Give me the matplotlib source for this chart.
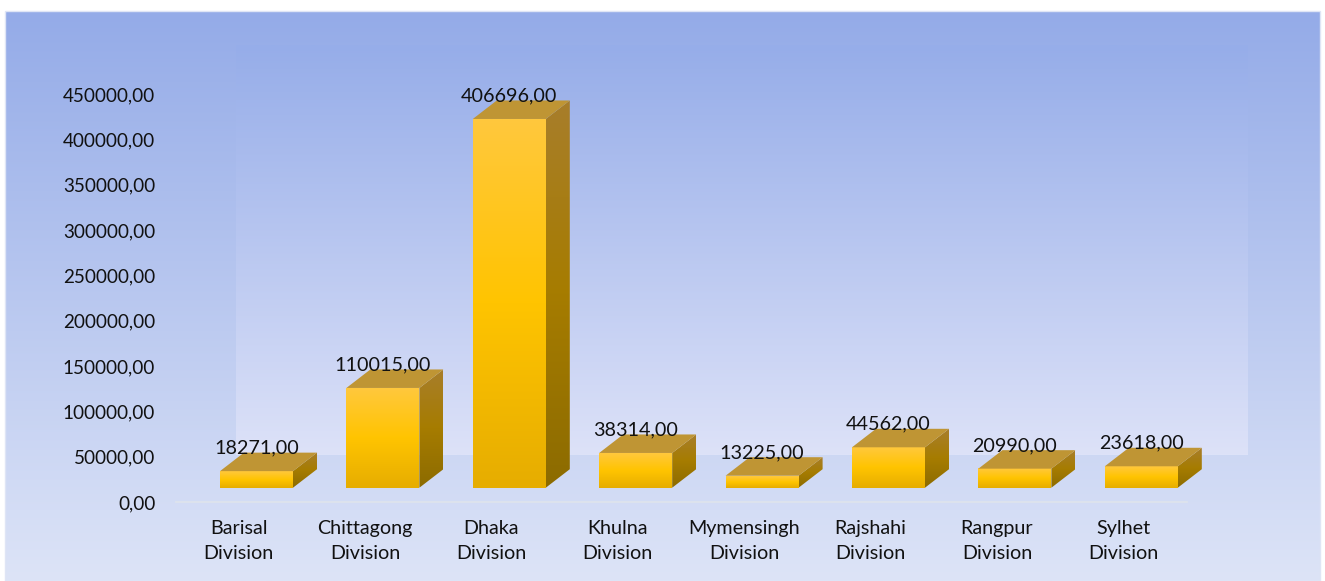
import numpy as np
import matplotlib
matplotlib.use("Agg")
import matplotlib.pyplot as plt
from matplotlib.colors import LinearSegmentedColormap
from matplotlib.patches import Polygon, Rectangle

plt.rcParams["font.family"] = ["Lato", "DejaVu Sans"]

categories = ["Barisal\nDivision", "Chittagong\nDivision", "Dhaka\nDivision", "Khulna\nDivision",
              "Mymensingh\nDivision", "Rajshahi\nDivision", "Rangpur\nDivision", "Sylhet\nDivision"]
values = [18271, 110015, 406696, 38314, 13225, 44562, 20990, 23618]
y_ticks = [0, 50000, 100000, 150000, 200000, 250000, 300000, 350000, 400000, 450000]

W, H = 1325, 581
fig = plt.figure(figsize=(W / 100, H / 100), dpi=100, facecolor="white")


def px_axes(x0, y0, x1, y1, **kw):
    # pixel box, y measured from the top
    return fig.add_axes([x0 / W, 1 - y1 / H, (x1 - x0) / W, (y1 - y0) / H], **kw)


def gradient(ax, cmap, extent, **kw):
    grad = np.linspace(0, 1, 256).reshape(-1, 1)
    return ax.imshow(grad, cmap=cmap, extent=extent, aspect="auto", origin="upper", **kw)


# chart area and back wall
bg = px_axes(0, 0, W, H)
bg_cmap = LinearSegmentedColormap.from_list("bg", ["#94abe8", "#dde4f7"])
wall_cmap = LinearSegmentedColormap.from_list("wall", ["#96ade9", "#dde2f8"])
gradient(bg, bg_cmap, [5, 1320, 581, 11])
gradient(bg, wall_cmap, [236, 1248, 455, 45])
bg.add_patch(Rectangle((5, 11), 1315, 575, fc="none", ec="#dfe5f5", lw=1))
bg.set_xlim(0, W)
bg.set_ylim(H, 0)
bg.axis("off")

# plot axes: 0 at y=502, 450000 at y=94
px_per_unit = 408 / 450000
ax_left, ax_right, ax_top, ax_bottom = 176, 1205, 60, 502
ax = px_axes(ax_left, ax_top, ax_right, ax_bottom)
ax.patch.set_alpha(0)
step = 126.4
first = 256.5

floor = 14.3 / px_per_unit
dep_x = 24 / step
dep_y = 18.5 / px_per_unit
half = 36.5 / step

front_cmap = LinearSegmentedColormap.from_list("front", ["#ffc83d", "#ffc400", "#e6ad00"])
side_cmap = LinearSegmentedColormap.from_list("side", ["#a87e2b", "#a67c00", "#8c6b00"])

for i, v in enumerate(values):
    top = floor + v
    x0, x1 = i - half, i + half
    # front
    gradient(ax, front_cmap, [x0, x1, floor, top], zorder=3)
    # side face
    side = Polygon([(x1, floor), (x1 + dep_x, floor + dep_y), (x1 + dep_x, top + dep_y), (x1, top)],
                   closed=True, fc="none", ec="none", zorder=2)
    ax.add_patch(side)
    im = gradient(ax, side_cmap, [x1, x1 + dep_x, floor, top + dep_y], zorder=2)
    im.set_clip_path(side)
    # top face
    ax.add_patch(Polygon([(x0, top), (x1, top), (x1 + dep_x, top + dep_y), (x0 + dep_x, top + dep_y)],
                         closed=True, fc="#bf9534", ec="none", zorder=4))
    ax.text(i, top + 23 / px_per_unit, f"{v},00", ha="center", va="center",
            fontsize=14.2, color="#111111", zorder=5)

ax.set_xlim((ax_left - first) / step, (ax_right - first) / step)
ax.set_ylim(0, (ax_bottom - ax_top) / px_per_unit)

for s in ["top", "left", "right"]:
    ax.spines[s].set_visible(False)
ax.spines["bottom"].set_color("#dfe4ec")
ax.spines["bottom"].set_linewidth(1.2)
ax.spines["bottom"].set_bounds((ax_left - first) / step, (1187 - first) / step)

ax.set_yticks(y_ticks)
ax.set_yticklabels([f"{t},00" for t in y_ticks], fontsize=13.6, color="#111111")
ax.tick_params(axis="y", length=0, pad=15)
ax.set_xticks(np.arange(len(categories)) - 18 / step)
ax.set_xticklabels(categories, fontsize=14.2, color="#111111", linespacing=1.57)
ax.tick_params(axis="x", length=0, pad=13)

fig.savefig("out.png", dpi=100)
